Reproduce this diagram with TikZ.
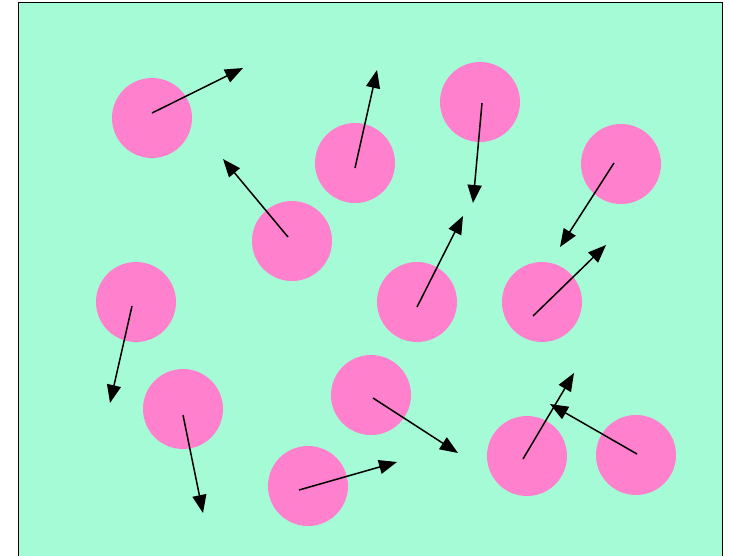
\documentclass[tikz,border=0pt]{standalone}
\usetikzlibrary{arrows.meta}
\definecolor{seafoam}{HTML}{A6FBD7}
\definecolor{ballpink}{HTML}{FF80CC}
\begin{document}
\begin{tikzpicture}[x=1pt,y=-1pt,line width=1.5pt,
  ball/.style={circle,fill=ballpink,minimum size=80pt,inner sep=0pt},
  vel/.style={-{Triangle[length=18pt,width=14pt]}}]
\useasboundingbox (0,0) rectangle (729,555);
\begin{scope}
\clip (0,0) rectangle (729,555);
\draw[fill=seafoam,line width=1pt] (18,2) rectangle (722,570);
\end{scope}
\node[ball] (m1) at (152,118) {};
\node[ball] (m2) at (355,163) {};
\node[ball] (m3) at (480,102) {};
\node[ball] (m4) at (621,164) {};
\node[ball] (m5) at (292,241) {};
\node[ball] (m6) at (136,302) {};
\node[ball] (m7) at (417,302) {};
\node[ball] (m8) at (542,302) {};
\node[ball] (m9) at (183,409) {};
\node[ball] (m10) at (371,395) {};
\node[ball] (m11) at (308,486) {};
\node[ball] (m12) at (527,456) {};
\node[ball] (m13) at (636,455) {};
\coordinate (t1) at (243,68);
\coordinate (t2) at (377,70);
\coordinate (t3) at (473,203);
\coordinate (t4) at (560,247);
\coordinate (t5) at (223,159);
\coordinate (t6) at (110,403);
\coordinate (t7) at (463,216);
\coordinate (t8) at (606,245);
\coordinate (t9) at (203,513);
\coordinate (t10) at (458,453);
\coordinate (t11) at (397,462);
\coordinate (t12) at (574,373);
\coordinate (t13) at (550,404);
\draw[vel] ([shift={(0,-5)}]m1.center) -- (t1);
\draw[vel] ([shift={(0,5)}]m2.center) -- (t2);
\draw[vel] ([shift={(2,1)}]m3.center) -- (t3);
\draw[vel] ([shift={(-7,-1)}]m4.center) -- (t4);
\draw[vel] ([shift={(-4,-4)}]m5.center) -- (t5);
\draw[vel] ([shift={(-4,4)}]m6.center) -- (t6);
\draw[vel] ([shift={(0,5)}]m7.center) -- (t7);
\draw[vel] ([shift={(-9,14)}]m8.center) -- (t8);
\draw[vel] ([shift={(0,6)}]m9.center) -- (t9);
\draw[vel] ([shift={(2,3)}]m10.center) -- (t10);
\draw[vel] ([shift={(-9,4)}]m11.center) -- (t11);
\draw[vel] ([shift={(-4,3)}]m12.center) -- (t12);
\draw[vel] ([shift={(1,-1)}]m13.center) -- (t13);
\end{tikzpicture}
\end{document}
